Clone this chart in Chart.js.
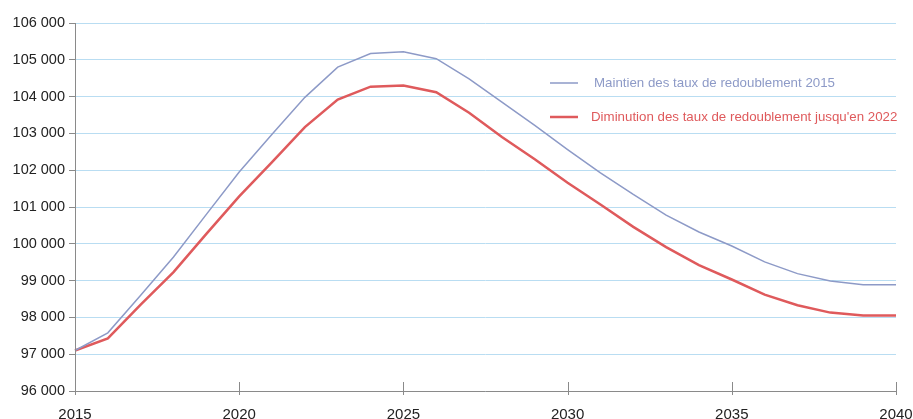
<!DOCTYPE html>
<html lang="fr">
<head>
    <meta charset="UTF-8">
    <title>Effectifs projetés</title>
    <script src="https://cdn.jsdelivr.net/npm/chart.js"></script>
    <style>
        html, body { margin: 0; padding: 0; background: #fff; }
        .chart-container { width: 913px; height: 419px; }
    </style>
</head>
<body>
    <div class="chart-container">
        <canvas id="projChart"></canvas>
    </div>

    <script>
        // Data
        const years = [2015, 2016, 2017, 2018, 2019, 2020, 2021, 2022, 2023, 2024, 2025, 2026, 2027,
                       2028, 2029, 2030, 2031, 2032, 2033, 2034, 2035, 2036, 2037, 2038, 2039, 2040];
        const maintien = [97100, 97580, 98600, 99640, 100800, 101950, 102980, 103980, 104800, 105170, 105220, 105030, 104480,
                          103850, 103220, 102560, 101930, 101340, 100780, 100320, 99940, 99510, 99190, 98990, 98890, 98890];
        const diminution = [97100, 97430, 98350, 99230, 100270, 101290, 102220, 103170, 103920, 104270, 104300, 104120, 103560,
                            102900, 102300, 101660, 101070, 100460, 99910, 99420, 99030, 98620, 98330, 98130, 98050, 98050];
        const yTicks = [96000, 97000, 98000, 99000, 100000, 101000, 102000, 103000, 104000, 105000, 106000];
        const xTickYears = [2015, 2020, 2025, 2030, 2035, 2040];
        const seriesNames = ['Maintien des taux de redoublement 2015', "Diminution des taux de redoublement jusqu'en 2022"];

        const blue = '#8d9ac7';
        const red = '#df5a5c';
        const fontFamily = '"Liberation Sans", Arial, sans-serif';

        function fmt(v) {
            return String(v).replace(/\B(?=(\d{3})+(?!\d))/g, ' ');
        }

        // axis lines, x ticks + labels and the in-chart legend
        const decorPlugin = {
            id: 'decor',
            afterDatasetsDraw(chart) {
                const { ctx, chartArea, scales } = chart;
                ctx.save();
                ctx.strokeStyle = '#8a8a8a';
                ctx.lineWidth = 1;
                ctx.beginPath();
                ctx.moveTo(chartArea.left + 0.5, chartArea.top);
                ctx.lineTo(chartArea.left + 0.5, chartArea.bottom + 4);
                ctx.moveTo(chartArea.left, chartArea.bottom + 0.5);
                ctx.lineTo(chartArea.right, chartArea.bottom + 0.5);
                xTickYears.forEach(y => {
                    const x = Math.round(scales.x.getPixelForValue(years.indexOf(y))) + 0.5;
                    ctx.moveTo(x, chartArea.bottom - 9);
                    ctx.lineTo(x, chartArea.bottom + 4);
                });
                ctx.stroke();

                ctx.fillStyle = '#222';
                ctx.font = '15px ' + fontFamily;
                ctx.textAlign = 'center';
                ctx.textBaseline = 'middle';
                xTickYears.forEach(y => {
                    const x = scales.x.getPixelForValue(years.indexOf(y));
                    ctx.fillText(String(y), x, chartArea.bottom + 24);
                });

                // legend
                const items = [
                    { y: 83, color: blue, width: 1.5 },
                    { y: 117, color: red, width: 2.5 }
                ];
                ctx.font = '13.3px ' + fontFamily;
                ctx.textAlign = 'left';
                items.forEach((it, i) => {
                    ctx.strokeStyle = it.color;
                    ctx.lineWidth = it.width;
                    ctx.beginPath();
                    ctx.moveTo(550, it.y);
                    ctx.lineTo(578, it.y);
                    ctx.stroke();
                    ctx.fillStyle = it.color;
                    ctx.fillText(seriesNames[i], i === 0 ? 594 : 591, it.y);
                });
                ctx.restore();
            }
        };

        const ctx = document.getElementById('projChart').getContext('2d');
        const projChart = new Chart(ctx, {
            type: 'line',
            data: {
                labels: years,
                datasets: [
                    {
                        label: seriesNames[0],
                        data: maintien,
                        borderColor: blue,
                        borderWidth: 1.5,
                        pointRadius: 0,
                        tension: 0
                    },
                    {
                        label: seriesNames[1],
                        data: diminution,
                        borderColor: red,
                        borderWidth: 2.5,
                        pointRadius: 0,
                        tension: 0
                    }
                ]
            },
            options: {
                responsive: true,
                maintainAspectRatio: false,
                animation: false,
                layout: { padding: { top: 23, right: 17, left: 0, bottom: 0 } },
                plugins: {
                    legend: { display: false },
                    tooltip: { enabled: false }
                },
                scales: {
                    x: {
                        type: 'category',
                        offset: false,
                        grid: { display: false },
                        border: { display: false },
                        ticks: { display: false },
                        afterFit: function (axis) { axis.height = 28; }
                    },
                    y: {
                        min: 96000,
                        max: 106000,
                        afterBuildTicks: function (axis) {
                            axis.ticks = yTicks.map(v => ({ value: v }));
                        },
                        grid: {
                            color: '#b9ddf2',
                            lineWidth: 1,
                            drawTicks: true,
                            tickLength: 6,
                            tickColor: '#8a8a8a'
                        },
                        border: { display: false },
                        ticks: {
                            padding: 4,
                            color: '#222',
                            font: { family: fontFamily, size: 14.5 },
                            callback: function (v) { return fmt(v); }
                        },
                        afterFit: function (axis) { axis.width = 75; }
                    }
                }
            },
            plugins: [decorPlugin]
        });
    </script>
</body>
</html>
